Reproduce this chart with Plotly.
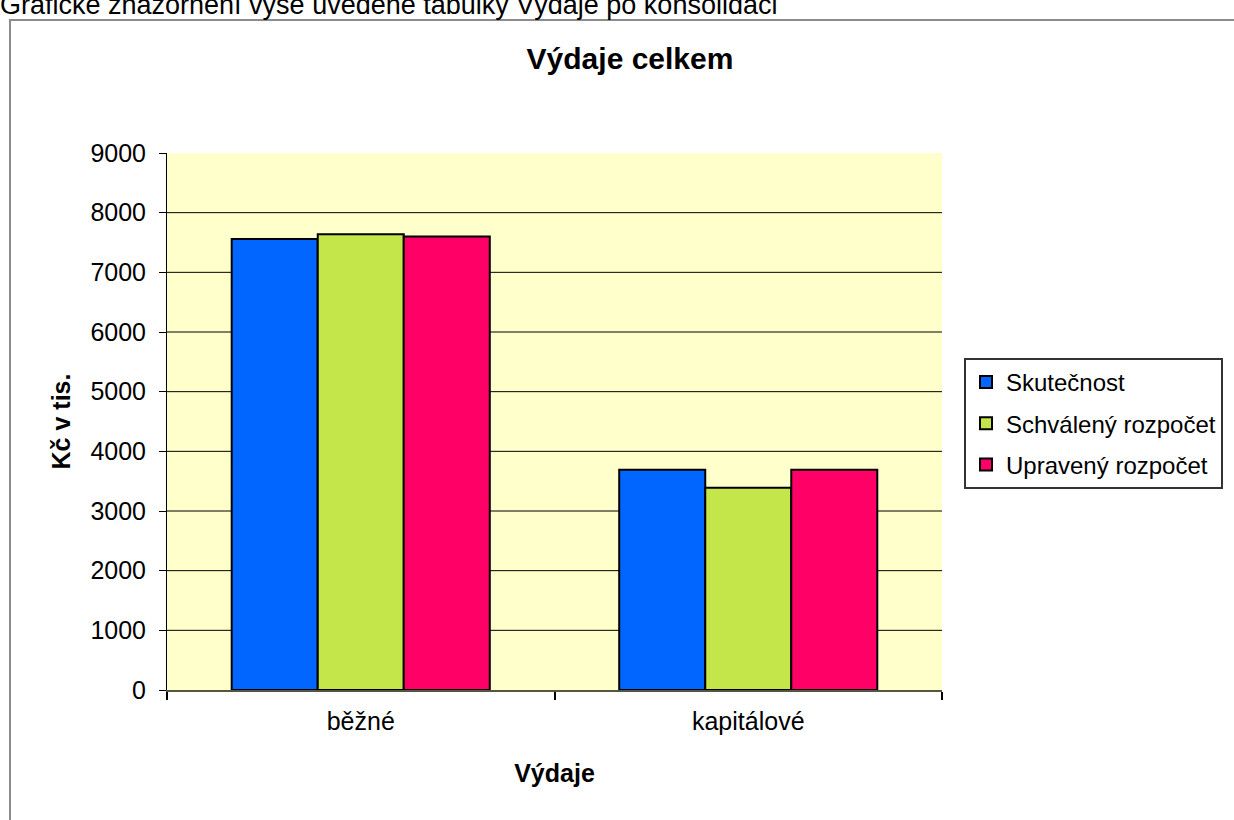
import plotly.graph_objects as go

# data
categories = ["běžné", "kapitálové"]
skutecnost = [7560, 3690]
schvaleny = [7640, 3390]
upraveny = [7600, 3690]
series_names = ["Skutečnost", "Schválený rozpočet", "Upravený rozpočet"]
colors = ["#0066FF", "#C5E64B", "#FF0066"]
y_ticks = [0, 1000, 2000, 3000, 4000, 5000, 6000, 7000, 8000, 9000]

FONT = "Arial, 'Liberation Sans', sans-serif"

fig = go.Figure()
for i, (name, vals) in enumerate(zip(series_names, [skutecnost, schvaleny, upraveny])):
    fig.add_trace(go.Bar(
        x=categories, y=vals, name=name, legendgroup=name,
        marker=dict(color=colors[i], line=dict(color="black", width=2)),
    ))

# plot area in px: x 167..942, y 153..690
L, R, T, B = 167, 942, 153, 690
W, H = R - L, B - T


def px_x(p):
    return (p - L) / W


def px_y(p):
    return (B - p) / H


# horizontal gridlines (the excel chart has none at the top edge)
grid = [dict(type="line", xref="paper", yref="y", x0=0, x1=1, y0=v, y1=v,
             line=dict(color="black", width=1), layer="below")
        for v in y_ticks[1:-1]]

frame = dict(type="rect", xref="paper", yref="paper",
             x0=px_x(10), x1=px_x(1300), y0=px_y(900), y1=px_y(20),
             line=dict(color="#8C8C8C", width=2), fillcolor="rgba(0,0,0,0)",
             layer="below")

fig.update_layout(
    width=1234, height=820,
    margin=dict(l=L, r=1234 - R, t=T, b=820 - B, autoexpand=False),
    paper_bgcolor="white", plot_bgcolor="#FFFFCC",
    font=dict(family=FONT, size=25, color="black"),
    barmode="group", bargap=0.334, bargroupgap=0,
    title=dict(text="<b>Výdaje celkem</b>", xref="paper", x=px_x(630), xanchor="center",
               y=1 - 58 / 820, yanchor="middle", font=dict(size=30)),
    showlegend=True,
    legend=dict(
        x=px_x(964), y=px_y(358), xanchor="left", yanchor="top",
        bgcolor="white", bordercolor="#333333", borderwidth=2,
        font=dict(size=24), tracegroupgap=7, traceorder="grouped",
        itemwidth=30,
    ),
    shapes=[frame] + grid,
    annotations=[dict(text="Grafické znázornění výše uvedené tabulky Výdaje po konsolidaci",
                      xref="paper", yref="paper", x=px_x(-2), y=px_y(5),
                      xanchor="left", yanchor="middle", showarrow=False,
                      font=dict(size=27))],
)

fig.update_yaxes(
    range=[0, 9000], tickvals=y_ticks, tickformat="d",
    showgrid=False,
    showline=True, linecolor="black", linewidth=1,
    ticks="outside", ticklen=7, tickcolor="black", ticklabelstandoff=8,
    zeroline=False,
    title=dict(text="<b>Kč v tis.</b>", font=dict(size=25), standoff=12),
)
fig.update_xaxes(
    showline=True, linecolor="#555544", linewidth=2,
    ticks="outside", tickson="boundaries", ticklen=8, tickcolor="black", tickwidth=2,
    ticklabelstandoff=8,
    title=dict(text="<b>Výdaje</b>", font=dict(size=25), standoff=30),
)

fig.write_html("out.html", config={"displayModeBar": False},
               post_script="document.body.style.margin='0';")
